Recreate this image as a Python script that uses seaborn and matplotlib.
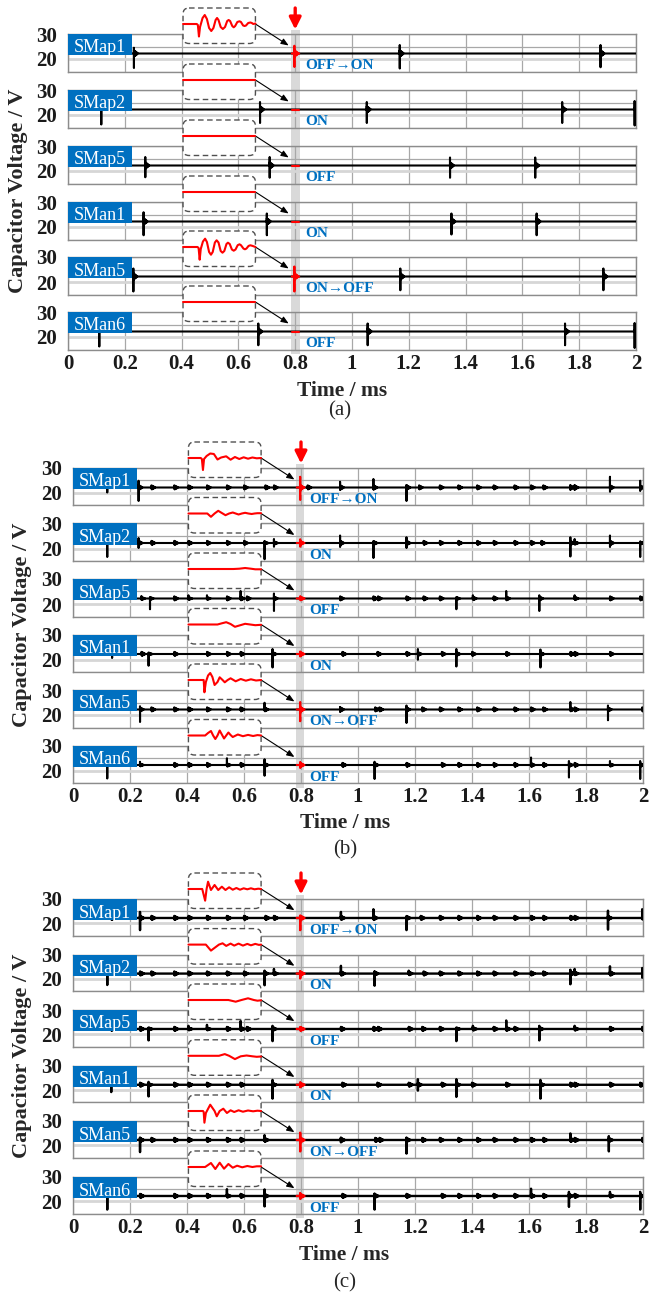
import matplotlib
matplotlib.use("Agg")
import numpy as np
import pandas as pd
import seaborn as sns
import matplotlib.pyplot as plt
from matplotlib.patches import Rectangle, FancyBboxPatch
from matplotlib.transforms import blended_transform_factory

sns.set_theme(style="white")
plt.rcParams["font.family"] = ["Liberation Serif", "DejaVu Serif"]

# ------------------------------------------------------------------ data
ROW_NAMES = ["SMap1", "SMap2", "SMap5", "SMan1", "SMan5", "SMan6"]
STATE_TEXT = ["OFF\u2192ON", "ON", "OFF", "ON", "ON\u2192OFF", "OFF"]
X_TICKS = [0, 0.2, 0.4, 0.6, 0.8, 1.0, 1.2, 1.4, 1.6, 1.8, 2.0]
X_TICK_LABELS = ["0", "0.2", "0.4", "0.6", "0.8", "1", "1.2", "1.4", "1.6", "1.8", "2"]
Y_GRID = [15, 20, 25, 30]
Y_GRID_LABELS = ["", "20", "", "30"]
BASE_V = 22.2          # steady capacitor voltage (V)
EVENT_T = 0.797        # fault / switching instant (ms)
INSET_T = (0.405, 0.66)
POINT_T, POINT_V = 0.777, 25.4
RING_SHAPE = [1.0, -0.9, 0.8, -0.7, 0.6, -0.5, 0.4, -0.3, 0.2, -0.1, 0.0]
RING_STEP = 0.0015
MARK_UP, MARK_RING = 0.4, 0.85

# spikes: (time ms, up V, down V, ringing V)
A_SPIKES = [
    [(0.232, 2.3, 5.8, 1.3), (1.168, 3.4, 6.0, 1.3), (1.875, 3.4, 5.5, 1.3)],
    [(0.117, 0.0, 6.0, 0.0), (0.676, 3.0, 5.4, 1.3), (1.052, 3.0, 5.4, 1.3), (1.74, 3.0, 5.4, 1.3), (1.995, 3.4, 6.4, 0.6)],
    [(0.272, 3.4, 4.7, 1.3), (0.71, 3.4, 4.9, 1.3), (1.345, 3.2, 4.9, 1.3), (1.645, 3.2, 4.9, 1.3)],
    [(0.266, 3.7, 5.5, 1.3), (0.70, 3.2, 5.5, 1.3), (1.35, 3.2, 5.2, 1.3), (1.65, 3.2, 5.5, 1.3)],
    [(0.23, 3.2, 6.0, 1.3), (1.17, 3.2, 5.5, 1.3), (1.885, 3.2, 5.5, 1.3)],
    [(0.11, 0.0, 6.0, 0.0), (0.67, 3.2, 5.5, 1.3), (1.055, 3.2, 5.5, 1.3), (1.75, 3.2, 5.5, 1.3), (1.995, 3.4, 6.6, 0.6)],
]
A_MARKS = [[], [], [], [], [], []]
A_RED = [(3.1, 5.4, 1.3), None, None, None, (4.0, 6.0, 1.3), None]

B_SPIKES = [
    [(0.12, 0.0, 2.0, 0.0), (0.23, 2.7, 5.4, 1.0), (0.937, 2.3, 1.0, 0.9), (1.054, 3.4, 0.8, 0.9), (1.17, 1.0, 5.4, 0.9),
     (1.745, 1.0, 1.0, 0.8), (1.76, 1.0, 1.0, 0.8), (1.884, 4.3, 1.7, 0.9), (1.99, 2.7, 1.4, 0.8)],
    [(0.12, 0.0, 5.6, 0.0), (0.23, 2.0, 2.0, 0.9), (0.672, 0.8, 6.5, 0.6), (0.705, 1.6, 1.5, 0.7), (0.937, 3.0, 1.6, 0.9),
     (1.054, 0.5, 6.0, 0.8), (1.17, 2.3, 2.0, 0.9), (1.745, 2.3, 5.4, 0.8), (1.76, 1.6, 0.5, 0.7), (1.884, 3.0, 1.6, 0.9),
     (1.99, 0.5, 5.6, 0.6)],
    [(0.24, 1.0, 0.5, 0.6), (0.27, 0.3, 4.3, 0.6), (0.405, 1.3, 0.3, 0.6), (0.47, 1.3, 0.3, 0.6), (0.588, 3.0, 0.5, 0.8),
     (0.705, 2.0, 5.0, 0.8), (1.345, 0.3, 4.3, 0.6), (1.403, 1.3, 0.3, 0.7), (1.52, 3.0, 0.5, 0.8), (1.636, 1.3, 5.0, 0.8),
     (1.76, 1.3, 0.3, 0.7)],
    [(0.137, 0.0, 1.6, 0.0), (0.265, 0.3, 4.7, 0.6), (0.70, 2.0, 5.4, 0.8), (1.21, 2.0, 2.3, 0.8), (1.345, 2.0, 5.0, 0.8),
     (1.64, 1.8, 5.4, 0.8)],
    [(0.235, 1.3, 5.0, 0.8), (0.672, 2.7, 0.5, 0.8), (0.937, 1.0, 1.0, 0.9), (1.17, 1.6, 5.4, 0.8), (1.745, 3.0, 0.5, 0.8),
     (1.877, 1.6, 4.3, 0.8)],
    [(0.12, 0.0, 5.4, 0.0), (0.235, 1.3, 0.3, 0.6), (0.54, 2.7, 0.3, 0.7), (0.672, 2.3, 4.3, 0.8), (1.058, 1.3, 5.6, 0.8),
     (1.607, 3.0, 0.5, 0.8), (1.74, 1.6, 5.0, 0.8), (1.884, 1.6, 0.3, 0.7), (1.99, 1.6, 5.6, 0.7)],
]
B_MARKS = [
    [0.275, 0.355, 0.405, 0.47, 0.54, 0.60, 0.675, 0.705, 0.823, 1.214, 1.287, 1.352, 1.418, 1.476, 1.549, 1.607, 1.65],
    [0.275, 0.355, 0.405, 0.47, 0.54, 0.60, 1.23, 1.287, 1.352, 1.418, 1.476, 1.549, 1.607, 1.643],
    [0.355, 0.54, 0.61, 0.937, 1.054, 1.07, 1.17, 1.23, 1.287, 1.476, 1.884, 1.99],
    [0.24, 0.355, 0.47, 0.54, 0.588, 0.945, 1.068, 1.17, 1.294, 1.40, 1.52, 1.745, 1.76, 1.884],
    [0.275, 0.355, 0.405, 0.47, 0.54, 0.588, 1.06, 1.075, 1.225, 1.287, 1.352, 1.418, 1.476, 1.549, 1.607, 1.65, 1.76, 1.997],
    [0.355, 0.405, 0.47, 0.588, 0.945, 1.17, 1.294, 1.352, 1.418, 1.476, 1.549, 1.65, 1.76],
]
B_RED = [(4.3, 5.0, 1.0), (1.5, 1.5, 0.8), (0.8, 0.5, 0.8), (1.0, 1.0, 0.8), (3.0, 4.7, 1.0), (1.2, 1.2, 0.9)]

C_SPIKES = [
    [(0.235, 2.5, 5.0, 0.9), (0.94, 2.5, 0.5, 0.8), (1.054, 3.6, 0.5, 0.9), (1.17, 0.5, 5.0, 0.8), (1.877, 3.0, 4.8, 0.8),
     (1.997, 3.6, 0.5, 0.6)],
    [(0.12, 0.0, 4.7, 0.0), (0.672, 1.2, 4.8, 0.7), (0.705, 1.9, 0.3, 0.7), (0.94, 3.2, 0.5, 0.9), (1.058, 0.9, 5.0, 0.8),
     (1.178, 1.2, 0.3, 0.7), (1.745, 1.6, 4.4, 0.8), (1.76, 1.9, 0.3, 0.7), (1.884, 3.0, 0.5, 0.9), (1.997, 2.3, 1.7, 0.7)],
    [(0.265, 0.3, 4.7, 0.6), (0.405, 1.3, 0.3, 0.6), (0.47, 1.7, 0.3, 0.6), (0.588, 3.3, 0.5, 0.8), (0.70, 1.3, 5.0, 0.8),
     (1.345, 0.3, 5.0, 0.6), (1.403, 1.3, 0.3, 0.7), (1.52, 3.5, 0.5, 0.8), (1.636, 1.3, 4.7, 0.8), (1.76, 1.3, 0.3, 0.7)],
    [(0.134, 0.0, 3.0, 0.0), (0.265, 1.2, 4.8, 0.6), (0.70, 2.0, 5.7, 0.8), (1.21, 2.3, 2.4, 0.8), (1.345, 2.3, 5.0, 0.8),
     (1.64, 2.0, 5.7, 0.8)],
    [(0.235, 1.0, 5.0, 0.8), (0.672, 2.0, 0.5, 0.8), (0.94, 1.0, 1.0, 0.8), (1.17, 1.0, 5.6, 0.8), (1.745, 2.7, 0.5, 0.8),
     (1.88, 1.6, 4.7, 0.8)],
    [(0.12, 0.0, 5.6, 0.0), (0.54, 2.8, 0.3, 0.7), (0.672, 2.7, 4.3, 0.8), (1.058, 1.0, 5.6, 0.8), (1.607, 3.0, 0.5, 0.8),
     (1.74, 1.7, 4.5, 0.8), (1.884, 1.7, 0.3, 0.7), (1.99, 1.7, 5.6, 0.7)],
]
C_MARKS = [
    [0.134, 0.275, 0.355, 0.405, 0.47, 0.54, 0.60, 0.675, 0.705, 1.22, 1.287, 1.352, 1.418, 1.476, 1.549, 1.607, 1.65, 1.745, 1.76],
    [0.235, 0.275, 0.355, 0.405, 0.47, 0.54, 0.60, 1.23, 1.287, 1.352, 1.418, 1.476, 1.549, 1.607, 1.65],
    [0.134, 0.235, 0.355, 0.54, 0.61, 0.94, 1.054, 1.07, 1.178, 1.225, 1.287, 1.476, 1.549, 1.884, 1.997],
    [0.235, 0.355, 0.405, 0.47, 0.54, 0.588, 0.945, 1.068, 1.178, 1.294, 1.40, 1.52, 1.745, 1.76, 1.884, 1.99],
    [0.275, 0.355, 0.405, 0.47, 0.54, 0.588, 1.06, 1.075, 1.225, 1.287, 1.352, 1.418, 1.476, 1.549, 1.607, 1.65, 1.76, 1.997],
    [0.235, 0.355, 0.405, 0.47, 0.588, 0.945, 1.17, 1.294, 1.352, 1.418, 1.476, 1.549, 1.65, 1.76],
]
C_RED = [(0.8, 5.0, 1.0), (1.0, 2.0, 0.8), (0.5, 0.5, 0.8), (1.0, 1.0, 0.8), (3.0, 4.7, 1.0), (1.2, 1.2, 0.9)]

# zoomed-in red waveforms (x: fraction of inset width, y: offset in px, up positive)
FLAT_X = [0.0, 1.0]
FLAT_Y = [0.0, 0.0]
A_INSET_X = [
    [0, 0.19, 0.205, 0.22, 0.235, 0.27, 0.30, 0.33, 0.36, 0.39, 0.42, 0.45, 0.47, 0.49, 0.52, 0.55, 0.58, 0.61, 0.63, 0.65,
     0.68, 0.70, 0.72, 0.75, 0.78, 0.80, 0.83, 0.85, 0.87, 0.90, 0.93, 0.95, 0.97, 1.0],
    FLAT_X, FLAT_X, FLAT_X,
    [0, 0.2, 0.215, 0.23, 0.245, 0.275, 0.305, 0.33, 0.36, 0.386, 0.41, 0.44, 0.464, 0.49, 0.52, 0.545, 0.57, 0.60, 0.62,
     0.645, 0.675, 0.70, 0.725, 0.755, 0.78, 0.80, 0.835, 0.855, 0.875, 0.905, 0.93, 0.96, 1.0],
    FLAT_X,
]
A_INSET_Y = [
    [0, 0, -1, -12.5, -3, 6, 9, 5, -4, -7, -4, 4, 6, 4, -3, -5, -3, 3, 4, 3, -2, -3.3, -2, 2, 2.7, 2, -1.5, -2, -1.5, 1, 1.5, 1, 0, 0.5],
    FLAT_Y, FLAT_Y, FLAT_Y,
    [0, 0, -1, -12.7, -2, 5.5, 8.3, 5, -5, -7.7, -5, 4.5, 6.7, 4.5, -4, -5.7, -4, 3, 4.3, 3, -2.5, -3.7, -2.5, 1.8, 2.7, 1.8,
     -1.6, -2.3, -1.6, 1.1, 1.7, 1.1, 0],
    FLAT_Y,
]
B_INSET_X = [
    [0, 0.17, 0.185, 0.20, 0.215, 0.25, 0.30, 0.35, 0.40, 0.45, 0.52, 0.58, 0.64, 0.70, 0.76, 0.82, 0.88, 0.94, 1.0],
    [0, 0.26, 0.31, 0.36, 0.41, 0.46, 0.51, 0.56, 0.61, 0.65, 0.69, 0.735, 0.78, 0.825, 0.87, 0.91, 0.95, 1.0],
    [0, 0.62, 0.70, 0.78, 0.86, 0.92, 1.0],
    [0, 0.40, 0.46, 0.52, 0.58, 0.64, 0.71, 0.78, 0.85, 0.92, 1.0],
    [0, 0.21, 0.22, 0.24, 0.27, 0.30, 0.33, 0.36, 0.40, 0.43, 0.47, 0.50, 0.54, 0.58, 0.62, 0.65, 0.72, 0.79, 0.86, 0.93, 1.0],
    [0, 0.23, 0.27, 0.31, 0.34, 0.37, 0.40, 0.43, 0.46, 0.49, 0.52, 0.55, 0.58, 0.61, 0.68, 0.75, 0.82, 0.89, 0.95, 1.0],
]
B_INSET_Y = [
    [0, 0, -1, -12, -1, 2, 4.5, 4, -1.5, 0.5, 1.7, -1.7, 1, -1, 0.7, -0.7, 0.5, -0.3, 0],
    [0, 0, -3.3, 0, 2.7, 0.5, -1.7, 0, 1, 0, -1, 0, 0.7, 0, -0.5, 0, 0.3, 0.3],
    [0, 0, 0.3, 1.0, 0.3, -0.3, -0.3],
    [0, 0, 1.2, 2.3, 0.5, -2.3, -0.8, 0.7, 0, -0.7, -0.3],
    [0, 0, -12.3, -2, 4.5, 7, 3, -5, -2, 2.7, 0, -2.3, 0, 1.7, 0, -1.3, 1, -0.7, 0.7, -0.5, 0],
    [0, 0, 2.5, 4.5, 0, -3.5, 0, 5, 1, -3, 0, 3, 0.5, -1.5, 1, -0.7, 0.6, -0.5, 0.4, 0],
]
C_INSET_X = [
    [0, 0.19, 0.23, 0.25, 0.27, 0.31, 0.36, 0.41, 0.46, 0.51, 0.56, 0.61, 0.66, 0.71, 0.76, 0.81, 0.86, 0.91, 0.96, 1.0],
    [0, 0.24, 0.31, 0.42, 0.47, 0.52, 0.58, 0.63, 0.69, 0.75, 0.81, 0.86, 0.92, 0.97, 1.0],
    [0, 0.55, 0.65, 0.73, 0.82, 0.90, 0.95, 1.0],
    [0, 0.42, 0.50, 0.56, 0.64, 0.72, 0.80, 0.88, 0.94, 1.0],
    [0, 0.20, 0.21, 0.22, 0.24, 0.30, 0.36, 0.39, 0.43, 0.48, 0.53, 0.58, 0.63, 0.69, 0.75, 0.82, 0.89, 0.95, 1.0],
    [0, 0.23, 0.31, 0.37, 0.43, 0.49, 0.55, 0.61, 0.67, 0.74, 0.81, 0.88, 0.94, 1.0],
]
C_INSET_Y = [
    [0, 0, -11.7, 0, 7.3, -1, 4, -1, 2.3, -1, 1.7, -0.7, 1, -0.7, 0.7, -0.3, 0.7, -0.3, 0.3, 0],
    [0, 0, -6, 0, 1.3, -1.3, 1, -1, 1, -1, 0.7, -0.7, 0.7, -0.3, 0],
    [0, 0, -1.7, 0, 1.7, 0, -0.7, -0.3],
    [0, 0, 1.7, 0, -3.3, -0.5, 0.3, -0.5, -1, -0.7],
    [0, 0, -1, -11.7, -2, 6.3, 0, -5.3, 0, 2.3, -2, 0.7, -1, 0.7, -0.7, 0.5, -0.3, 0.3, 0],
    [0, 0, 4, -2, 4.3, -1.7, 3, -0.7, 1.3, -0.3, 1, 0, 0.7, 0.7],
]

# ------------------------------------------------------------------ layout (pixels)
W, H = 649, 1298
PANELS = [
    dict(tag="(a)", left=68, right=636, tops=[34, 90, 146, 202, 257, 312], h=37.5,
         spikes=A_SPIKES, marks=A_MARKS, red=A_RED, ix=A_INSET_X, iy=A_INSET_Y,
         band=(0.785, 0.816), text_t=0.835, lw=1.5,
         xlabel=(342, 391.5), cap=(340, 411), ylab=(18, 191)),
    dict(tag="(b)", left=73, right=643, tops=[468, 523.5, 579, 634.5, 690, 745.5], h=37.5,
         spikes=B_SPIKES, marks=B_MARKS, red=B_RED, ix=B_INSET_X, iy=B_INSET_Y,
         band=(0.782, 0.811), text_t=0.829, lw=1.5,
         xlabel=(345, 823), cap=(345, 850), ylab=(22, 625)),
    dict(tag="(c)", left=73, right=643, tops=[899, 954.6, 1010, 1065.8, 1121, 1177], h=36.5,
         spikes=C_SPIKES, marks=C_MARKS, red=C_RED, ix=C_INSET_X, iy=C_INSET_Y,
         band=(0.782, 0.811), text_t=0.829, lw=1.7,
         xlabel=(344, 1255), cap=(345, 1283), ylab=(22, 1056)),
]

BLUE = "#0070C0"


def build_trace(events, t_start, t_end):
    ts, vs = [t_start], [BASE_V]
    for (t0, up, dn, r) in sorted(events):
        ts += [t0, t0 + 1e-4, t0 + 2e-4]
        vs += [BASE_V, BASE_V + up, BASE_V - dn]
        for k, s in enumerate(RING_SHAPE):
            ts.append(t0 + 3e-4 + k * RING_STEP)
            vs.append(BASE_V + r * s)
    if t_end > ts[-1]:
        ts.append(t_end)
        vs.append(BASE_V)
    return pd.DataFrame({"t": ts, "v": vs})


fig = plt.figure(figsize=(W / 100, H / 100), dpi=100)
fig.patch.set_facecolor("white")

bg = fig.add_axes([0, 0, 1, 1], zorder=-1)
bg.set_xlim(0, W); bg.set_ylim(H, 0); bg.axis("off")
ov = fig.add_axes([0, 0, 1, 1], zorder=3)
ov.set_xlim(0, W); ov.set_ylim(H, 0); ov.axis("off")


def px_t(P, t):
    return P["left"] + t / 2.0 * (P["right"] - P["left"])


for P in PANELS:
    axes = []
    wpx = P["right"] - P["left"]
    for i in range(6):
        top, h = P["tops"][i], P["h"]
        ax = fig.add_axes([P["left"] / W, 1 - (top + h) / H, wpx / W, h / H], zorder=1)
        ax.set_facecolor("none")
        axes.append(ax)

        # main black trace
        ev = list(P["spikes"][i]) + [(m, MARK_UP, MARK_UP, MARK_RING) for m in P["marks"][i]]
        df = build_trace(ev, 0.0, 2.05)
        sns.lineplot(data=df, x="t", y="v", ax=ax, color="black", linewidth=P["lw"],
                     estimator=None, sort=False, legend=False, zorder=3)
        # red highlighted part at the event instant
        red_ev = [] if P["red"][i] is None else [(EVENT_T,) + tuple(P["red"][i])]
        dfr = build_trace(red_ev, P["band"][0] + 0.003, P["band"][1] - 0.002)
        sns.lineplot(data=dfr, x="t", y="v", ax=ax, color="red", linewidth=P["lw"],
                     estimator=None, sort=False, legend=False, zorder=4)

        ax.set_xlim(0, 2)
        ax.set_ylim(Y_GRID[0], Y_GRID[-1])
        ax.set_xticks(X_TICKS)
        ax.set_yticks(Y_GRID)
        ax.set_yticklabels(Y_GRID_LABELS, fontsize=15, fontweight="bold")
        if i == 5:
            ax.set_xticklabels(X_TICK_LABELS, fontsize=15, fontweight="bold")
        else:
            ax.set_xticklabels([])
        ax.set_xlabel("")
        ax.set_ylabel("")
        ax.tick_params(axis="both", length=0, colors="#1a1a1a")
        ax.tick_params(axis="y", pad=8)
        ax.tick_params(axis="x", pad=3)
        ax.grid(True, axis="x", color="#a8a8a8", linewidth=0.9)
        ax.grid(True, axis="y", color="#a8a8a8", linewidth=0.9)
        for gl, val in zip(ax.get_ygridlines(), Y_GRID):
            if val == 20:
                gl.set_color("#d6d6d6"); gl.set_linewidth(2.0)
        ax.set_axisbelow(True)
        for sp in ax.spines.values():
            sp.set_color("#8c8c8c"); sp.set_linewidth(1.0)

        # name tag
        ax.add_patch(Rectangle((0, 1 - 21 / h), 64 / wpx, 21 / h, transform=ax.transAxes,
                               facecolor=BLUE, edgecolor="none", zorder=6, clip_on=False))
        ax.text(32 / wpx, 1 - 18.5 / h, ROW_NAMES[i], transform=ax.transAxes, ha="center",
                va="baseline", color="white", fontsize=13, zorder=7)
        # state text
        ax.text(P["text_t"], 17.25, STATE_TEXT[i], ha="left", va="center", fontsize=11,
                fontweight="bold", color=BLUE, zorder=7)

        # inset with zoomed waveform
        x0, x1 = px_t(P, INSET_T[0]), px_t(P, INSET_T[1])
        y0, y1, yr = top - 26, top + 9.5, top - 10
        ov.add_patch(FancyBboxPatch((x0, y0), x1 - x0, y1 - y0,
                                    boxstyle="round,pad=0,rounding_size=6",
                                    facecolor="white", edgecolor="#505050", linewidth=1.0,
                                    linestyle=(0, (4, 2.5))))
        iax = fig.add_axes([x0 / W, 1 - y1 / H, (x1 - x0) / W, (y1 - y0) / H], zorder=4)
        iax.set_facecolor("none")
        sns.lineplot(x=P["ix"][i], y=P["iy"][i], ax=iax, color="red", linewidth=1.5,
                     estimator=None, sort=False, legend=False)
        for ln in iax.lines:
            ln.set_clip_on(False)
            ln.set_solid_joinstyle("round")
        iax.set_xlim(0, 1)
        iax.set_ylim(-(y1 - yr), yr - y0)
        iax.axis("off")
        # connector arrow
        ov.annotate("", xy=(POINT_T, POINT_V), xycoords=ax.transData,
                    xytext=(x1, yr), textcoords="data",
                    arrowprops=dict(arrowstyle="-|>,head_length=0.45,head_width=0.18",
                                    color="black", lw=0.8, shrinkA=0, shrinkB=0,
                                    mutation_scale=10))

    top0 = P["tops"][0]
    bottom = P["tops"][-1] + P["h"]
    # shaded instant band
    bg.add_patch(Rectangle((P["band"][0], top0 - 4), P["band"][1] - P["band"][0],
                           bottom - top0 + 8.5,
                           transform=blended_transform_factory(axes[0].transData, bg.transData),
                           facecolor="#d9d9d9", edgecolor="none"))
    # red arrow marking the instant
    ov.annotate("", xy=(0.80, top0 - 4.5), xycoords=(axes[0].transData, ov.transData),
                xytext=(0.80, top0 - 26), textcoords=(axes[0].transData, ov.transData),
                arrowprops=dict(arrowstyle="-|>,head_length=0.7,head_width=0.35",
                                color="red", lw=2.4, shrinkA=0, shrinkB=0, mutation_scale=10))

    fig.text(P["xlabel"][0] / W, 1 - P["xlabel"][1] / H, "Time / ms", ha="center", va="center",
             fontsize=15.5, fontweight="bold")
    fig.text(P["cap"][0] / W, 1 - P["cap"][1] / H, P["tag"], ha="center", va="center",
             fontsize=15)
    fig.text(P["ylab"][0] / W, 1 - P["ylab"][1] / H, "Capacitor Voltage / V", ha="center",
             va="center", rotation=90, fontsize=16, fontweight="bold")

fig.savefig("out.png", dpi=100)
